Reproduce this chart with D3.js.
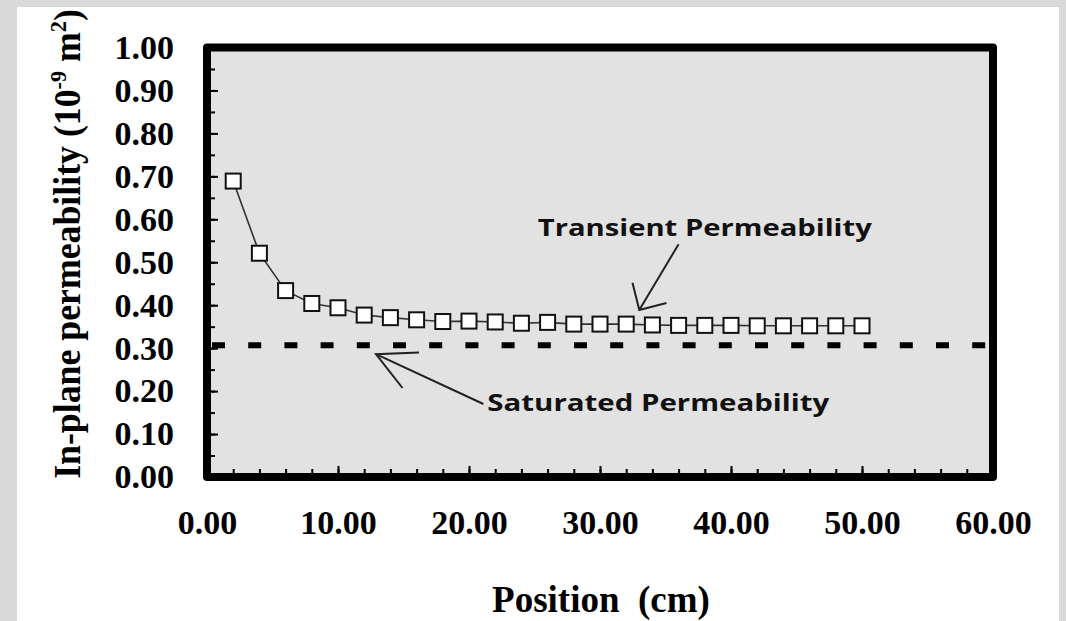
<!DOCTYPE html>
<html>
<head>
<meta charset="utf-8">
<script src="https://cdn.jsdelivr.net/npm/d3@7"></script>
<style>
    html, body { margin: 0; padding: 0; background: #dadada; overflow: hidden; }
    svg { display: block; }
</style>
</head>
<body>
<svg id="chart"></svg>
<script>
// 数据：位置 (cm) 与瞬态渗透率 (10^-9 m^2)
const positions = [2, 4, 6, 8, 10, 12, 14, 16, 18, 20, 22, 24, 26, 28, 30, 32, 34, 36, 38, 40, 42, 44, 46, 48, 50];
const transientK = [0.689, 0.521, 0.434, 0.404, 0.394, 0.377, 0.371, 0.366, 0.362, 0.363, 0.361, 0.358, 0.360,
                    0.356, 0.356, 0.356, 0.354, 0.353, 0.353, 0.353, 0.352, 0.352, 0.352, 0.352, 0.352];
const saturatedK = 0.307;

const xTicks = [0, 10, 20, 30, 40, 50, 60];
const yTicks = [0, 0.1, 0.2, 0.3, 0.4, 0.5, 0.6, 0.7, 0.8, 0.9, 1.0];

const annotationTexts = ['Transient Permeability', 'Saturated Permeability'];
const annotationText = [[25.25, 0.561], [21.4, 0.154]];
const arrowTail = [[36.0, 0.542], [21.1, 0.170]];
const arrowTip = [[33.0, 0.389], [12.9, 0.286]];

const W = 1066, H = 621;
const frame = { left: 207, right: 993, top: 47.5, bottom: 477 };

const svg = d3.select('#chart').attr('width', W).attr('height', H);

// 白色面板
svg.append('rect')
    .attr('x', 17).attr('y', 7)
    .attr('width', 1042).attr('height', H - 7)
    .attr('fill', '#ffffff');

const x = d3.scaleLinear().domain([0, 60]).range([frame.left, frame.right]);
const y = d3.scaleLinear().domain([0, 1]).range([frame.bottom, frame.top]);

// 绘图区底色
svg.append('rect')
    .attr('x', frame.left).attr('y', frame.top)
    .attr('width', frame.right - frame.left).attr('height', frame.bottom - frame.top)
    .attr('fill', '#e2e2e2');

const serif = '"Liberation Serif", "Times New Roman", serif';

// 次刻度
svg.append('g')
    .attr('transform', `translate(0,${frame.bottom - 4})`)
    .call(d3.axisBottom(x).tickValues(d3.range(0, 61, 2)).tickSize(-4).tickFormat(''))
    .call(g => g.select('.domain').remove())
    .selectAll('line').attr('stroke', '#000').attr('stroke-width', 2);

svg.append('g')
    .attr('transform', `translate(${frame.left + 4},0)`)
    .call(d3.axisLeft(y).tickValues(d3.range(0, 1.001, 0.05)).tickSize(-4).tickFormat(''))
    .call(g => g.select('.domain').remove())
    .selectAll('line').attr('stroke', '#000').attr('stroke-width', 2);

// 主刻度 + 标签
const xAxis = svg.append('g')
    .attr('transform', `translate(0,${frame.bottom - 4})`)
    .call(d3.axisBottom(x).tickValues(xTicks).tickSize(-7).tickPadding(37).tickFormat(d3.format('.2f')));
xAxis.select('.domain').remove();
xAxis.selectAll('line').attr('stroke', '#000').attr('stroke-width', 2);
xAxis.selectAll('text')
    .attr('fill', '#000')
    .style('font-family', serif).style('font-weight', 'bold').style('font-size', '34px');

const yAxis = svg.append('g')
    .attr('transform', `translate(${frame.left + 4},0)`)
    .call(d3.axisLeft(y).tickValues(yTicks).tickSize(-7).tickPadding(37).tickFormat(d3.format('.2f')));
yAxis.select('.domain').remove();
yAxis.selectAll('line').attr('stroke', '#000').attr('stroke-width', 2);
yAxis.selectAll('text')
    .attr('fill', '#000')
    .style('font-family', serif).style('font-weight', 'bold').style('font-size', '34px');

// 饱和渗透率虚线
svg.append('line')
    .attr('x1', frame.left + 5).attr('x2', frame.right - 6)
    .attr('y1', y(saturatedK)).attr('y2', y(saturatedK))
    .attr('stroke', '#000').attr('stroke-width', 6)
    .attr('stroke-dasharray', '13 23.2');

// 瞬态渗透率曲线
const points = positions.map((p, i) => ({ x: p, y: transientK[i] }));
svg.append('path')
    .datum(points)
    .attr('fill', 'none')
    .attr('stroke', '#333')
    .attr('stroke-width', 1.6)
    .attr('d', d3.line().x(d => x(d.x)).y(d => y(d.y)));

svg.selectAll('.marker')
    .data(points)
    .enter()
    .append('rect')
    .attr('class', 'marker')
    .attr('x', d => x(d.x) - 7.5)
    .attr('y', d => y(d.y) - 7.5)
    .attr('width', 15).attr('height', 15)
    .attr('fill', '#fff')
    .attr('stroke', '#111')
    .attr('stroke-width', 2);

// 外框
svg.append('rect')
    .attr('x', frame.left).attr('y', frame.top)
    .attr('width', frame.right - frame.left).attr('height', frame.bottom - frame.top)
    .attr('fill', 'none')
    .attr('stroke', '#000').attr('stroke-width', 8)
    .attr('stroke-linejoin', 'round');

// 注释文字与箭头
const headAngle = [45, 27];
const headLen = [28, 43];
const textWidth = [334, 342];

annotationTexts.forEach((t, i) => {
    svg.append('text')
        .attr('x', x(annotationText[i][0]))
        .attr('y', y(annotationText[i][1]))
        .attr('textLength', textWidth[i])
        .attr('lengthAdjust', 'spacingAndGlyphs')
        .attr('fill', '#111')
        .style('font-family', '"Open Sans", sans-serif')
        .style('font-weight', 'bold')
        .style('font-size', '24px')
        .text(t);

    const x1 = x(arrowTail[i][0]), y1 = y(arrowTail[i][1]);
    const x2 = x(arrowTip[i][0]), y2 = y(arrowTip[i][1]);
    const ang = Math.atan2(y1 - y2, x1 - x2);
    const a = headAngle[i] * Math.PI / 180;
    const path = d3.path();
    path.moveTo(x1, y1);
    path.lineTo(x2, y2);
    path.moveTo(x2 + headLen[i] * Math.cos(ang + a), y2 + headLen[i] * Math.sin(ang + a));
    path.lineTo(x2, y2);
    path.lineTo(x2 + headLen[i] * Math.cos(ang - a), y2 + headLen[i] * Math.sin(ang - a));
    svg.append('path')
        .attr('d', path.toString())
        .attr('fill', 'none')
        .attr('stroke', '#222')
        .attr('stroke-width', 2);
});

// 坐标轴标题
svg.append('text')
    .attr('x', 601)
    .attr('y', 612)
    .attr('text-anchor', 'middle')
    .attr('fill', '#000')
    .style('font-family', serif).style('font-weight', 'bold').style('font-size', '37px')
    .style('white-space', 'pre')
    .text('Position  (cm)');

const yTitle = svg.append('text')
    .attr('text-anchor', 'middle')
    .attr('fill', '#000')
    .style('font-family', serif).style('font-weight', 'bold').style('font-size', '37px');
yTitle.append('tspan').text('In-plane permeability (10');
yTitle.append('tspan').attr('dy', -14).style('font-size', '23px').text('-9');
yTitle.append('tspan').attr('dy', 14).text('\u00a0m');
yTitle.append('tspan').attr('dy', -14).style('font-size', '23px').text('2');
yTitle.append('tspan').attr('dy', 14).text(')');
// 标题长度压到约 470px，与原图一致
const titleLen = yTitle.node().getComputedTextLength();
yTitle.attr('transform', `translate(80,244) rotate(-90) scale(${470 / titleLen},1)`);
</script>
</body>
</html>
